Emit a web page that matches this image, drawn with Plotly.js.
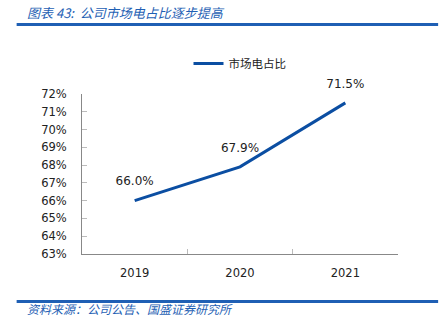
<!DOCTYPE html>
<html>
<head>
<meta charset="utf-8">
<script src="https://cdn.plot.ly/plotly-3.0.1.min.js"></script>
<style>
html,body{margin:0;padding:0;background:#fff;}
#chart{width:444px;height:328px;}
</style>
</head>
<body>
<div id="chart"></div>
<script>
const categories = ['2019', '2020', '2021'];
const marketShare = [66.0, 67.9, 71.5];
const seriesName = '市场电占比';
const yTickVals = [63, 64, 65, 66, 67, 68, 69, 70, 71, 72];
const yTickText = yTickVals.map(v => v + '%');
const labelText = marketShare.map(v => v.toFixed(1) + '%');

const blue = '#0B4EA2';
const ruleBlue = '#1F5FB4';
const trace = {
  x: categories,
  y: marketShare,
  type: 'scatter',
  mode: 'lines+markers+text',
  name: seriesName,
  line: {color: blue, width: 3},
  marker: {size: 18, color: 'rgba(0,0,0,0)', line: {width: 0}},
  text: labelText,
  textposition: 'top center',
  textfont: {family: 'DejaVu Sans, sans-serif', size: 12, color: '#222'},
  cliponaxis: false,
  hoverinfo: 'skip'
};

function ruleAnnot(yPaper) {
  return {xref: 'paper', yref: 'paper', x: 1.127, y: yPaper,
    axref: 'pixel', ayref: 'pixel', ax: -423, ay: 0,
    text: '', showarrow: true, arrowhead: 0, arrowwidth: 3, arrowcolor: ruleBlue,
    standoff: 0, startstandoff: 0};
}

const layout = {
  width: 444, height: 328,
  margin: {l: 82, r: 46, t: 94, b: 74},
  paper_bgcolor: '#fff', plot_bgcolor: '#fff',
  showlegend: true,
  legend: {
    orientation: 'h', x: 0.5, xanchor: 'center', y: 1.19, yanchor: 'middle',
    font: {family: 'Noto Sans CJK SC, sans-serif', size: 11.5, color: '#222'},
    itemwidth: 30
  },
  xaxis: {
    type: 'category',
    range: [-0.5, 2.5],
    showline: true, linecolor: '#888', linewidth: 1,
    ticks: 'inside', ticklen: 5, tickcolor: '#bbb',
    tickson: 'boundaries',
    showgrid: false, zeroline: false,
    tickfont: {family: 'DejaVu Sans, sans-serif', size: 11.5, color: '#222'},
    ticklabelstandoff: 8
  },
  yaxis: {
    range: [63, 72],
    tickvals: yTickVals, ticktext: yTickText,
    showline: true, linecolor: '#888', linewidth: 1,
    ticks: 'inside', ticklen: 5, tickcolor: '#bbb',
    showgrid: false, zeroline: false,
    tickfont: {family: 'DejaVu Sans, sans-serif', size: 11.5, color: '#222'},
    ticklabelstandoff: 12
  },
  annotations: [
    ruleAnnot(1.434),
    ruleAnnot(-0.297),
    {xref: 'paper', yref: 'paper', x: -0.18, y: 1.5125, xanchor: 'left', yanchor: 'middle',
     text: '<i>图表 43:  公司市场电占比逐步提高</i>', showarrow: false,
     font: {family: 'Noto Sans CJK SC, sans-serif', size: 13, color: ruleBlue}},
    {xref: 'paper', yref: 'paper', x: -0.18, y: -0.3375, xanchor: 'left', yanchor: 'middle',
     text: '<i>资料来源：公司公告、国盛证券研究所</i>', showarrow: false,
     font: {family: 'Noto Sans CJK SC, sans-serif', size: 12, color: ruleBlue}}
  ]
};

Plotly.newPlot('chart', [trace], layout, {staticPlot: true, displayModeBar: false});
</script>
</body>
</html>
